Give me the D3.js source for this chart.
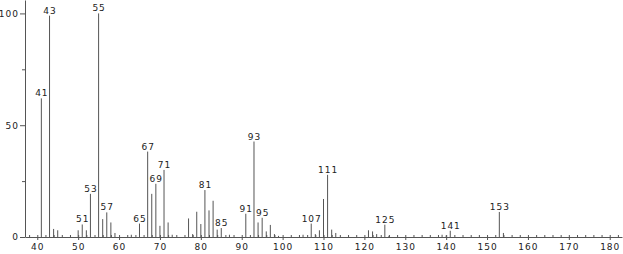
<!DOCTYPE html>
<html>
<body style="margin:0;background:#fff">

<script src="https://d3js.org/d3.v7.min.js"></script>
<style>

body {
    font: 9px "DejaVu Sans", sans-serif;
}

.tick text, .peak-label {
    font: 9px "DejaVu Sans", sans-serif;
    letter-spacing: 1px;
    fill: #222;
}

.axis path, .axis line {
    stroke: #555;
}

.peak {
    stroke: #555;
    stroke-width: 1;
}

</style>

<script>

// mass spectrum - m/z and relative abundance
var mz = [41, 43, 44, 45, 50, 51, 52, 53, 55, 56, 57, 58, 59, 63, 65, 67, 68, 69, 70, 71,
          72, 73, 77, 78, 79, 80, 81, 82, 83, 84, 85, 87, 91, 93, 94, 95, 96, 97, 98, 99,
          105, 107, 108, 109, 110, 111, 112, 113, 121, 122, 123, 125, 126, 139, 140, 141, 153, 154];

var abundance = [62, 99, 3.6, 3, 3, 5.6, 3, 19.3, 100, 8, 11, 6.5, 1.8, 1, 6, 38.2, 19.3, 23.8, 5, 30,
                 6.5, 1, 8.3, 1.3, 11.3, 5.8, 21, 11.9, 16.2, 3.3, 4, 1, 10.4, 42.7, 6.5, 8.6, 2.5, 5.4, 1.3, 0.5,
                 1, 6, 1.3, 3, 17, 27.8, 3.3, 1.8, 3, 2.5, 1.3, 5.5, 0.5, 1, 0.7, 2.8, 11.2, 1.8];

var labelled = [41, 43, 51, 53, 55, 57, 65, 67, 69, 71, 81, 85, 91, 93, 95, 107, 111, 125, 141, 153];

var xTicks = d3.range(40, 181, 10);
var yTicks = [0, 50, 100];

var width = 623,
    height = 254;

var svg = d3.select("body").append("svg")
    .attr("width", width)
    .attr("height", height);

var data = mz.map(function(m, i) { return {mz: m, y: abundance[i]} });

var xScale = d3.scaleLinear()
    .domain([37, 183])
    .range([25, 622]);

var yScale = d3.scaleLinear()
    .domain([0, 106])
    .range([237, 0]);

// minor ticks every 2 units, pointing up
svg.append("g")
   .attr("class", "x axis")
   .attr("transform", "translate(0,237)")
   .call(d3.axisTop(xScale).tickValues(d3.range(38, 183, 2)).tickSize(2).tickFormat(""))
   .select(".domain").remove();

var xAxis = svg.append("g")
   .attr("class", "x axis")
   .attr("transform", "translate(0,237)")
   .call(d3.axisBottom(xScale).tickValues(xTicks).tickSize(3).tickSizeOuter(0).tickPadding(2));

xAxis.selectAll("text").attr("dy", "0.85em");

svg.append("g")
   .attr("class", "y axis")
   .attr("transform", "translate(25,0)")
   .call(d3.axisLeft(yScale).tickValues([25, 75]).tickSize(3).tickFormat(""))
   .select(".domain").remove();

svg.append("g")
   .attr("class", "y axis")
   .attr("transform", "translate(25,0)")
   .call(d3.axisLeft(yScale).tickValues(yTicks).tickSize(5).tickSizeOuter(0).tickPadding(1));

svg.selectAll(".peak")
    .data(data)
  .enter().append("line")
    .attr("class", "peak")
    .attr("x1", function(d) { return xScale(d.mz) })
    .attr("x2", function(d) { return xScale(d.mz) })
    .attr("y1", yScale(0))
    .attr("y2", function(d) { return yScale(d.y) });

svg.selectAll(".peak-label")
    .data(data.filter(function(d) { return labelled.indexOf(d.mz) >= 0 }))
  .enter().append("text")
    .attr("class", "peak-label")
    .attr("x", function(d) { return xScale(d.mz) + 0.5 })
    .attr("y", function(d) { return yScale(d.y) - 2 })
    .attr("text-anchor", "middle")
    .text(function(d) { return d.mz });

</script>
</body>
</html>
